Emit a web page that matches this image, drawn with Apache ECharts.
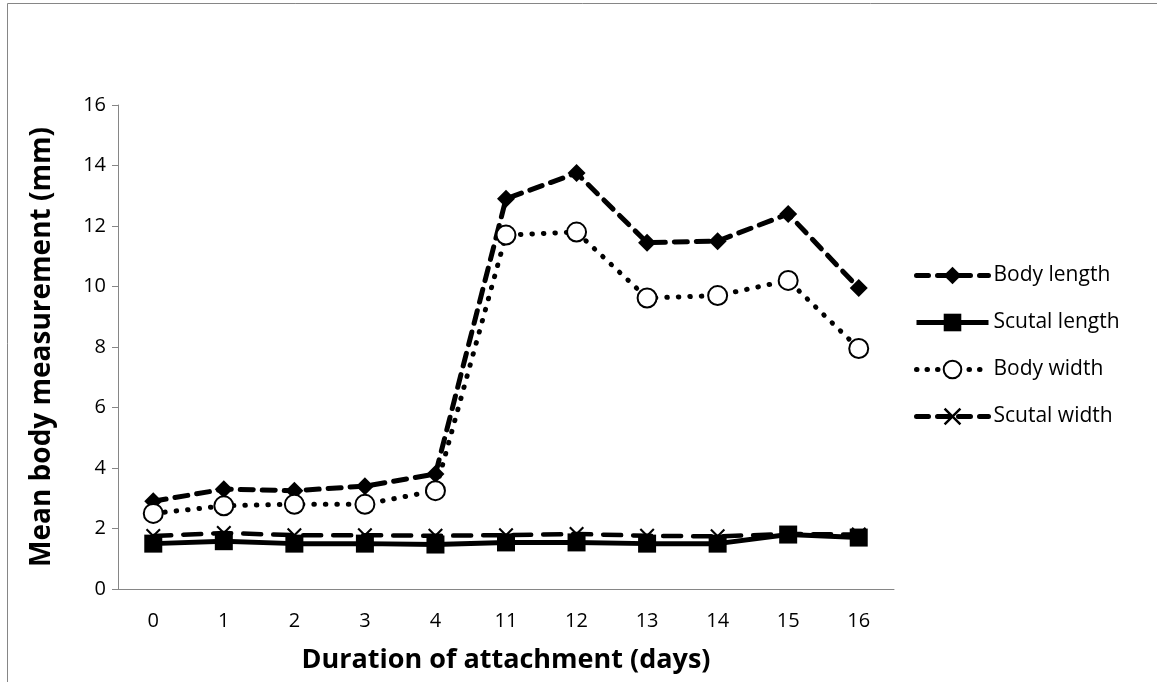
<!DOCTYPE html>
<html>
<head>
<meta charset="utf-8">
<script src="https://cdn.jsdelivr.net/npm/echarts@6/dist/echarts.min.js"></script>
<style>
html,body{margin:0;padding:0;background:#fff;}
#chart{width:1157px;height:682px;}
</style>
</head>
<body>
<div id="chart"></div>
<script>
const categories = ['0','1','2','3','4','11','12','13','14','15','16'];
const bodyLength   = [2.9, 3.3, 3.25, 3.4, 3.8, 12.9, 13.75, 11.45, 11.5, 12.4, 9.95];
const scutalLength = [1.5, 1.58, 1.5, 1.5, 1.47, 1.54, 1.54, 1.5, 1.5, 1.8, 1.7];
const bodyWidth    = [2.5, 2.75, 2.8, 2.8, 3.25, 11.7, 11.8, 9.62, 9.7, 10.2, 7.95];
const scutalWidth  = [1.75, 1.85, 1.78, 1.78, 1.76, 1.78, 1.82, 1.76, 1.74, 1.82, 1.8];
const yTicks = {min: 0, max: 16, interval: 2};

const FONT = 'Open Sans';
const xSymbol = 'path://M0,1 L1,0 L5,4 L9,0 L10,1 L6,5 L10,9 L9,10 L5,6 L1,10 L0,9 L4,5 Z';

const chart = echarts.init(document.getElementById('chart'), null, {renderer: 'canvas'});
chart.setOption({
  backgroundColor: '#fff',
  animation: false,
  graphic: [{
    type: 'rect', silent: true, z: -10,
    shape: {x: 7.5, y: 3.5, width: 1300, height: 900},
    style: {fill: 'none', stroke: '#868686', lineWidth: 1}
  }],
  grid: {left: 118, right: 263, top: 105, bottom: 93, containLabel: false},
  legend: {
    orient: 'vertical', left: 909, top: 260, itemGap: 26,
    itemWidth: 72, itemHeight: 22,
    textStyle: {fontFamily: FONT, fontSize: 21, color: '#000'},
    data: [
      {name: 'Body length', lineStyle: {width: 5, type: [12, 9], cap: 'round'}},
      {name: 'Scutal length', lineStyle: {width: 5}},
      {name: 'Body width', lineStyle: {width: 5, type: [0.5, 10], cap: 'round'}},
      {name: 'Scutal width', lineStyle: {width: 5, type: [12, 9], cap: 'round'}}
    ]
  },
  xAxis: {
    type: 'category', data: categories, boundaryGap: true,
    name: 'Duration of attachment (days)', nameLocation: 'middle', nameGap: 58,
    nameTextStyle: {fontFamily: FONT, fontSize: 27, fontWeight: 'bold', color: '#000'},
    axisLine: {lineStyle: {color: '#868686', width: 1}},
    axisTick: {show: false},
    axisLabel: {fontFamily: FONT, fontSize: 20, color: '#000', margin: 22},
    splitLine: {show: false}
  },
  yAxis: {
    type: 'value', min: yTicks.min, max: yTicks.max, interval: yTicks.interval,
    name: 'Mean body measurement (mm)', nameLocation: 'middle', nameGap: 62,
    nameTextStyle: {fontFamily: FONT, fontSize: 28, fontWeight: 'bold', color: '#000'},
    axisLine: {show: true, lineStyle: {color: '#868686', width: 1}},
    axisTick: {show: true, length: 6, lineStyle: {color: '#868686'}},
    axisLabel: {fontFamily: FONT, fontSize: 20, color: '#000', margin: 12},
    splitLine: {show: false}
  },
  series: [
    {
      name: 'Body length', type: 'line', data: bodyLength, z: 4,
      symbol: 'diamond', symbolSize: 18,
      itemStyle: {color: '#000'},
      lineStyle: {color: '#000', width: 5, type: [13, 9], cap: 'round'}
    },
    {
      name: 'Scutal length', type: 'line', data: scutalLength, z: 3,
      symbol: 'rect', symbolSize: 18,
      itemStyle: {color: '#000'},
      lineStyle: {color: '#000', width: 5, type: 'solid'}
    },
    {
      name: 'Body width', type: 'line', data: bodyWidth, z: 5,
      symbol: 'circle', symbolSize: 19,
      itemStyle: {color: '#fff', borderColor: '#000', borderWidth: 2},
      lineStyle: {color: '#000', width: 5, type: [0.5, 11], cap: 'round'}
    },
    {
      name: 'Scutal width', type: 'line', data: scutalWidth, z: 2,
      symbol: xSymbol, symbolSize: 15,
      itemStyle: {color: '#000'},
      lineStyle: {color: '#000', width: 4.5, type: [18, 12], cap: 'round'}
    }
  ]
});
</script>
</body>
</html>
